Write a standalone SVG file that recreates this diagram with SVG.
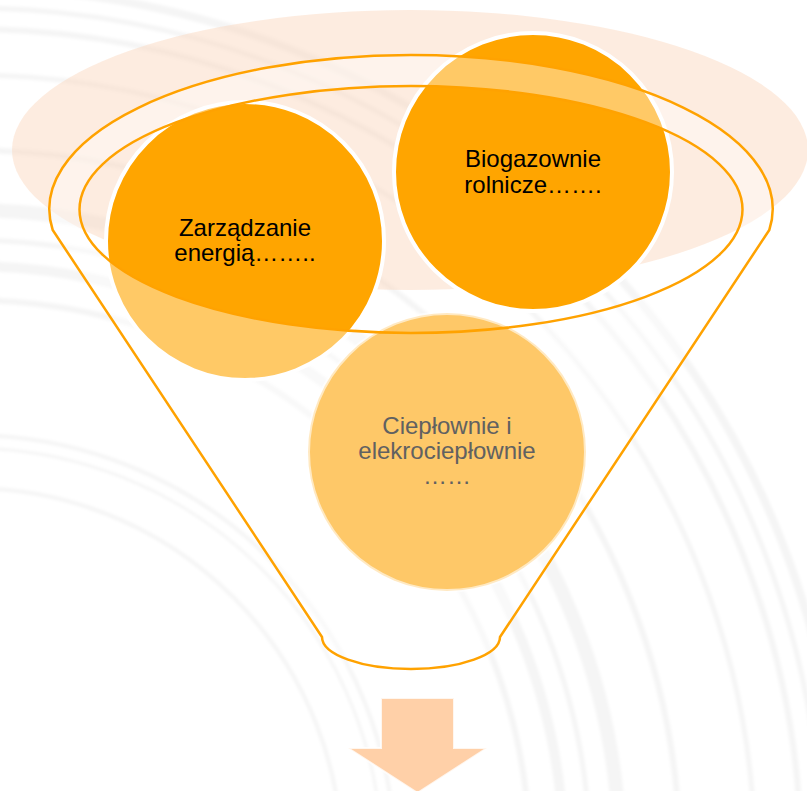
<svg xmlns="http://www.w3.org/2000/svg" width="807" height="791" viewBox="0 0 807 791">
  <defs>
    <style>
      .arc { fill: none; stroke: #000; stroke-opacity: 0.04; }
      .bubble { stroke: #ffffff; stroke-width: 4; }
      .dark { fill: #FFA500; }
      .light { fill: #FEC868; }
      .label { font-family: "Liberation Sans", Arial, sans-serif; font-size: 24px; text-anchor: middle; }
      .funnel-line { fill: none; stroke: #FFA200; stroke-width: 2.5; stroke-linejoin: round; }
    </style>
    <filter id="soft" x="-10%" y="-10%" width="120%" height="120%">
      <feGaussianBlur stdDeviation="1.8"/>
    </filter>
  </defs>

  <rect x="0" y="0" width="807" height="791" fill="#ffffff"/>

  <!-- faint background arcs -->
  <g id="background" filter="url(#soft)">
    <circle class="arc" cx="-30" cy="860" r="372" stroke-width="4"/>
    <circle class="arc" cx="-30" cy="860" r="412" stroke-width="3"/>
    <circle class="arc" cx="-30" cy="860" r="425" stroke-width="4"/>
    <circle class="arc" cx="-30" cy="860" r="560" stroke-width="6"/>
    <circle class="arc" cx="-30" cy="860" r="594" stroke-width="10" stroke-opacity="0.025"/>
    <circle class="arc" cx="-30" cy="860" r="620" stroke-width="5"/>
    <circle class="arc" cx="-30" cy="860" r="650" stroke-width="14" stroke-opacity="0.02"/>
    <circle class="arc" cx="-30" cy="860" r="710" stroke-width="6"/>
    <circle class="arc" cx="-30" cy="860" r="785" stroke-width="5"/>
    <circle class="arc" cx="-30" cy="860" r="831" stroke-width="6"/>
    <circle class="arc" cx="-30" cy="860" r="852" stroke-width="5"/>
    <circle class="arc" cx="-30" cy="860" r="872" stroke-width="8" stroke-opacity="0.025"/>
  </g>

  <!-- large peach ellipse -->
  <ellipse id="halo" cx="410" cy="150" rx="398" ry="140" fill="#FBD5BA" fill-opacity="0.45"/>

  <!-- top circles -->
  <g id="node-zarzadzanie">
    <circle class="bubble dark" cx="245" cy="241" r="139"/>
  </g>
  <g id="node-biogazownie">
    <circle class="bubble dark" cx="533" cy="172" r="139"/>
  </g>

  <!-- funnel translucent body -->
  <path id="funnel-body" fill="#ffffff" fill-opacity="0.4" fill-rule="evenodd"
        d="M 52.7 230 A 361.7 154 0 1 1 769.3 230 L 500 637 A 89 32 0 0 1 411 669 A 89 32 0 0 1 322 637 Z
           M 79.5 209.5 A 331.5 123.5 0 0 0 742.5 209.5 A 331.5 123.5 0 0 0 79.5 209.5 Z"/>

  <!-- bottom circle -->
  <g id="node-cieplownie">
    <circle class="bubble light" cx="447" cy="452" r="139" stroke-opacity="0.6"/>
  </g>

  <!-- funnel outline -->
  <g id="connectors">
    <path class="funnel-line" d="M 52.7 230 A 361.7 154 0 1 1 769.3 230 L 500 637 A 89 32 0 0 1 411 669 A 89 32 0 0 1 322 637 Z"/>
    <ellipse class="funnel-line" cx="411" cy="209.5" rx="331.5" ry="123.5"/>
  </g>

  <!-- labels -->
  <g id="labels">
    <text class="label" x="245" y="236" fill="#000000">Zarządzanie</text>
    <text class="label" x="245" y="261" fill="#000000">energią……..</text>
    <text class="label" x="533" y="167" fill="#000000">Biogazownie</text>
    <text class="label" x="533" y="193" fill="#000000">rolnicze…….</text>
    <text class="label" x="447" y="434" fill="#616161">Ciepłownie i</text>
    <text class="label" x="447" y="459" fill="#616161">elekrociepłownie</text>
    <text class="label" x="447" y="484" fill="#616161">……</text>
  </g>

  <!-- down arrow -->
  <g id="arrow">
    <polygon points="381,698 454,698 454,748 487,748 417.5,793 348,748 381,748" fill="#FFD0A8" stroke="#ffffff" stroke-width="2" stroke-opacity="0.8"/>
  </g>
</svg>
